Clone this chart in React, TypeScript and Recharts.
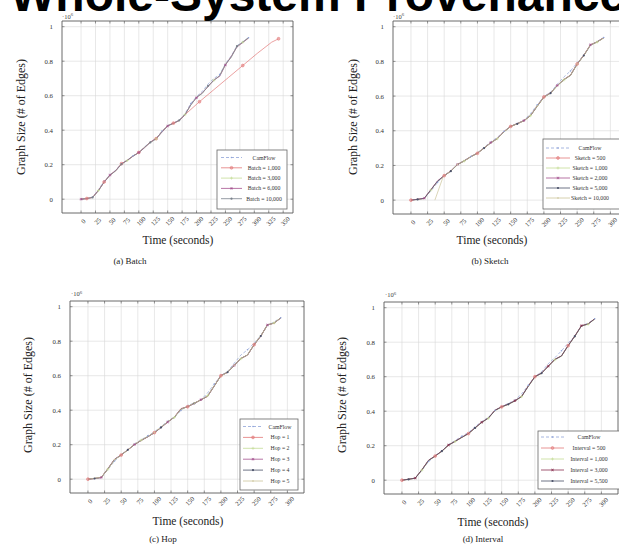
import React from 'react';
import { LineChart, Line, XAxis, YAxis, CartesianGrid, ReferenceArea } from 'recharts';

const SERIF = '"Liberation Serif", "DejaVu Serif", serif';

// ---------------- data ----------------
const TIME = [0, 10, 20, 30, 40, 50, 60, 70, 80, 90, 100, 110, 120, 130, 140, 150, 160, 170, 180, 190, 200, 210, 220, 230, 240, 250, 260, 270, 280, 290];
const TIME_BATCH_1000 = [0, 10, 20, 30, 40, 50, 60, 70, 80, 90, 100, 110, 120, 130, 140, 150, 160, 170, 180, 205, 230, 255, 280, 305, 330, 342];
const TIME_SKETCH_10000 = [36, 48, 50, 60, 70, 80, 90, 100, 110, 120, 130, 140, 150, 160, 170, 180, 190, 200, 210, 220, 230, 240, 250, 260, 270, 280, 290];

const X_TICKS_BATCH = [0, 25, 50, 75, 100, 125, 150, 175, 200, 225, 250, 275, 300, 325, 350];
const X_TICKS = [0, 25, 50, 75, 100, 125, 150, 175, 200, 225, 250, 275, 300];
const Y_TICKS = [0, 0.2, 0.4, 0.6, 0.8, 1];
const Y_TICK_LABELS = ['0', '0.2', '0.4', '0.6', '0.8', '1'];

// (a) Batch  (values in 10^6 edges)
const camA = [0, 0.004, 0.012, 0.055, 0.105, 0.142, 0.168, 0.207, 0.226, 0.252, 0.272, 0.303, 0.333, 0.352, 0.395, 0.428, 0.442, 0.458, 0.495, 0.555, 0.595, 0.625, 0.668, 0.7, 0.722, 0.785, 0.83, 0.89, 0.912, 0.936];
const batch1000 = [0, 0.004, 0.01, 0.05, 0.1, 0.14, 0.166, 0.206, 0.225, 0.25, 0.271, 0.301, 0.331, 0.351, 0.392, 0.426, 0.441, 0.456, 0.49, 0.565, 0.635, 0.705, 0.775, 0.845, 0.91, 0.93];
const batch3000 = [0, 0.005, 0.01, 0.05, 0.1, 0.138, 0.165, 0.204, 0.224, 0.25, 0.27, 0.3, 0.33, 0.35, 0.39, 0.425, 0.44, 0.455, 0.49, 0.545, 0.59, 0.615, 0.655, 0.69, 0.715, 0.78, 0.825, 0.885, 0.91, 0.935];
const batch6000 = [0, 0.004, 0.011, 0.052, 0.098, 0.14, 0.166, 0.205, 0.226, 0.249, 0.271, 0.298, 0.331, 0.352, 0.388, 0.424, 0.441, 0.456, 0.488, 0.548, 0.588, 0.618, 0.652, 0.692, 0.712, 0.778, 0.828, 0.882, 0.908, 0.934];
const batch10000 = [0, 0.003, 0.01, 0.048, 0.1, 0.139, 0.164, 0.203, 0.225, 0.251, 0.269, 0.301, 0.329, 0.349, 0.391, 0.426, 0.439, 0.457, 0.492, 0.546, 0.592, 0.613, 0.657, 0.688, 0.717, 0.782, 0.822, 0.887, 0.911, 0.937];

// (b) Sketch
const camB = [0, 0.004, 0.011, 0.052, 0.102, 0.142, 0.168, 0.207, 0.227, 0.252, 0.272, 0.304, 0.336, 0.362, 0.397, 0.427, 0.443, 0.46, 0.5, 0.55, 0.598, 0.622, 0.668, 0.71, 0.745, 0.792, 0.835, 0.892, 0.915, 0.938];
const sketch500 = [0, 0.005, 0.01, 0.06, 0.11, 0.141, 0.168, 0.205, 0.226, 0.25, 0.27, 0.3, 0.33, 0.355, 0.395, 0.425, 0.44, 0.458, 0.488, 0.542, 0.595, 0.618, 0.66, 0.695, 0.72, 0.785, 0.835, 0.895, 0.912, 0.936];
const sketch1000 = [0, 0.004, 0.009, 0.058, 0.108, 0.14, 0.167, 0.204, 0.225, 0.249, 0.271, 0.299, 0.331, 0.354, 0.393, 0.424, 0.441, 0.457, 0.487, 0.54, 0.593, 0.616, 0.658, 0.693, 0.718, 0.783, 0.833, 0.893, 0.911, 0.935];
const sketch2000 = [0, 0.005, 0.011, 0.061, 0.111, 0.142, 0.169, 0.206, 0.227, 0.251, 0.272, 0.301, 0.332, 0.356, 0.396, 0.426, 0.442, 0.459, 0.489, 0.543, 0.596, 0.619, 0.661, 0.696, 0.721, 0.786, 0.836, 0.896, 0.913, 0.937];
const sketch5000 = [0, 0.004, 0.01, 0.059, 0.109, 0.14, 0.167, 0.205, 0.226, 0.25, 0.27, 0.3, 0.33, 0.355, 0.394, 0.425, 0.44, 0.458, 0.488, 0.542, 0.594, 0.617, 0.66, 0.694, 0.72, 0.784, 0.834, 0.894, 0.912, 0.936];
const sketch10000 = [0, 0.13, 0.142, 0.168, 0.206, 0.226, 0.25, 0.271, 0.301, 0.331, 0.355, 0.395, 0.425, 0.441, 0.458, 0.489, 0.543, 0.595, 0.618, 0.66, 0.695, 0.72, 0.785, 0.835, 0.895, 0.912, 0.936];

// (c) Hop
const camC = [0, 0.004, 0.01, 0.055, 0.105, 0.14, 0.168, 0.206, 0.228, 0.252, 0.275, 0.305, 0.338, 0.36, 0.398, 0.428, 0.442, 0.46, 0.5, 0.552, 0.6, 0.625, 0.672, 0.72, 0.75, 0.79, 0.832, 0.89, 0.912, 0.936];
const hop1 = [0, 0.004, 0.01, 0.06, 0.115, 0.14, 0.17, 0.2, 0.225, 0.245, 0.27, 0.3, 0.332, 0.36, 0.41, 0.42, 0.44, 0.46, 0.48, 0.54, 0.6, 0.62, 0.66, 0.7, 0.72, 0.78, 0.83, 0.895, 0.905, 0.935];
const hop2 = [0, 0.005, 0.011, 0.058, 0.112, 0.141, 0.169, 0.202, 0.226, 0.247, 0.271, 0.301, 0.333, 0.358, 0.405, 0.422, 0.441, 0.459, 0.484, 0.542, 0.598, 0.621, 0.661, 0.698, 0.721, 0.781, 0.831, 0.893, 0.906, 0.936];
const hop3 = [0, 0.004, 0.01, 0.062, 0.116, 0.142, 0.171, 0.201, 0.224, 0.246, 0.269, 0.299, 0.331, 0.361, 0.408, 0.421, 0.439, 0.461, 0.482, 0.541, 0.601, 0.619, 0.659, 0.699, 0.719, 0.779, 0.829, 0.894, 0.904, 0.934];
const hop4 = [0, 0.004, 0.01, 0.06, 0.114, 0.14, 0.17, 0.2, 0.225, 0.246, 0.27, 0.3, 0.332, 0.359, 0.407, 0.42, 0.44, 0.46, 0.481, 0.54, 0.6, 0.62, 0.66, 0.7, 0.72, 0.78, 0.83, 0.895, 0.905, 0.935];
const hop5 = [0, 0.005, 0.011, 0.059, 0.113, 0.141, 0.17, 0.202, 0.226, 0.247, 0.271, 0.301, 0.333, 0.36, 0.406, 0.421, 0.441, 0.46, 0.483, 0.541, 0.599, 0.62, 0.66, 0.699, 0.72, 0.781, 0.83, 0.894, 0.905, 0.935];

// (d) Interval
const camD = [0, 0.004, 0.012, 0.057, 0.108, 0.14, 0.17, 0.206, 0.23, 0.255, 0.276, 0.31, 0.34, 0.365, 0.405, 0.428, 0.445, 0.465, 0.5, 0.55, 0.6, 0.628, 0.675, 0.71, 0.75, 0.795, 0.835, 0.895, 0.91, 0.936];
const interval500 = [0, 0.006, 0.012, 0.06, 0.115, 0.14, 0.168, 0.203, 0.225, 0.248, 0.27, 0.303, 0.335, 0.36, 0.405, 0.425, 0.44, 0.46, 0.485, 0.545, 0.6, 0.62, 0.66, 0.7, 0.72, 0.78, 0.835, 0.895, 0.905, 0.935];
const interval1000 = [0, 0.005, 0.011, 0.058, 0.113, 0.139, 0.167, 0.202, 0.224, 0.247, 0.269, 0.302, 0.334, 0.359, 0.403, 0.424, 0.439, 0.459, 0.484, 0.543, 0.598, 0.619, 0.659, 0.698, 0.719, 0.779, 0.833, 0.893, 0.904, 0.934];
const interval3000 = [0, 0.006, 0.012, 0.061, 0.116, 0.141, 0.169, 0.204, 0.226, 0.249, 0.271, 0.304, 0.336, 0.361, 0.406, 0.426, 0.441, 0.461, 0.486, 0.546, 0.601, 0.621, 0.661, 0.701, 0.721, 0.781, 0.836, 0.896, 0.906, 0.936];
const interval5500 = [0, 0.005, 0.012, 0.06, 0.114, 0.14, 0.168, 0.203, 0.225, 0.248, 0.27, 0.303, 0.335, 0.36, 0.404, 0.425, 0.44, 0.46, 0.485, 0.544, 0.599, 0.62, 0.66, 0.699, 0.72, 0.78, 0.834, 0.894, 0.905, 0.935];

const NAMES_A = ['CamFlow', 'Batch = 1,000', 'Batch = 3,000', 'Batch = 6,000', 'Batch = 10,000'];
const NAMES_B = ['CamFlow', 'Sketch = 500', 'Sketch = 1,000', 'Sketch = 2,000', 'Sketch = 5,000', 'Sketch = 10,000'];
const NAMES_C = ['CamFlow', 'Hop = 1', 'Hop = 2', 'Hop = 3', 'Hop = 4', 'Hop = 5'];
const NAMES_D = ['CamFlow', 'Interval = 500', 'Interval = 1,000', 'Interval = 3,000', 'Interval = 5,500'];

const TITLE = 'Whole-System Provenance';
const Y_LABEL = 'Graph Size (# of Edges)';
const X_LABEL = 'Time (seconds)';
const CAPTIONS = ['(a) Batch', '(b) Sketch', '(c) Hop', '(d) Interval'];

// ---------------- styles ----------------
const C_CAM = '#8fa3d8';
const C_RED = '#e27878';
const C_GREEN = '#c4dc96';
const C_PURPLE = '#a4508e';
const C_DARK = '#4a5068';
const C_GRAY = '#7a828c';
const C_TAN = '#cbc49a';
const C_WINE = '#8a3050';

type Kind = 'circle' | 'plus' | 'star' | 'dot' | 'cross' | 'small';
type S = { name: string; times: number[]; values: number[]; color: string; dash?: string; kind: Kind; every: number; phase: number };

function Marker({ kind, x, y, color }: { kind: Kind; x: number; y: number; color: string }) {
  const r = 1.5;
  switch (kind) {
    case 'circle':
      return <circle cx={x} cy={y} r={1.4} fill={color} fillOpacity={0.5} stroke={color} strokeWidth={0.6} />;
    case 'plus':
      return <path d={`M${x - r},${y}H${x + r}M${x},${y - r}V${y + r}`} stroke={color} strokeWidth={0.6} fill="none" />;
    case 'star':
      return <path d={`M${x - r},${y}H${x + r}M${x - 0.8},${y - 1.3}L${x + 0.8},${y + 1.3}M${x + 0.8},${y - 1.3}L${x - 0.8},${y + 1.3}`} stroke={color} strokeWidth={0.6} fill="none" />;
    case 'dot':
      return <circle cx={x} cy={y} r={1.1} fill={color} />;
    case 'cross':
      return <path d={`M${x - 1.1},${y - 1.1}L${x + 1.1},${y + 1.1}M${x + 1.1},${y - 1.1}L${x - 1.1},${y + 1.1}`} stroke={color} strokeWidth={0.6} fill="none" />;
    default:
      return <circle cx={x} cy={y} r={0.8} fill={color} />;
  }
}

const seriesA: S[] = [
  { name: NAMES_A[0], times: TIME, values: camA, color: C_CAM, dash: '3 2', kind: 'small', every: 5, phase: 1 },
  { name: NAMES_A[1], times: TIME_BATCH_1000, values: batch1000, color: C_RED, kind: 'circle', every: 3, phase: 2 },
  { name: NAMES_A[2], times: TIME, values: batch3000, color: C_GREEN, kind: 'plus', every: 5, phase: 2 },
  { name: NAMES_A[3], times: TIME, values: batch6000, color: C_PURPLE, kind: 'star', every: 5, phase: 0 },
  { name: NAMES_A[4], times: TIME, values: batch10000, color: C_GRAY, kind: 'dot', every: 5, phase: 3 },
];
const seriesB: S[] = [
  { name: NAMES_B[0], times: TIME, values: camB, color: C_CAM, dash: '3 2', kind: 'small', every: 5, phase: 1 },
  { name: NAMES_B[1], times: TIME, values: sketch500, color: C_RED, kind: 'circle', every: 5, phase: 0 },
  { name: NAMES_B[2], times: TIME, values: sketch1000, color: C_GREEN, kind: 'plus', every: 5, phase: 2 },
  { name: NAMES_B[3], times: TIME, values: sketch2000, color: C_PURPLE, kind: 'star', every: 5, phase: 3 },
  { name: NAMES_B[4], times: TIME, values: sketch5000, color: C_DARK, kind: 'dot', every: 5, phase: 4 },
  { name: NAMES_B[5], times: TIME_SKETCH_10000, values: sketch10000, color: C_TAN, kind: 'small', every: 6, phase: 2 },
];
const seriesC: S[] = [
  { name: NAMES_C[0], times: TIME, values: camC, color: C_CAM, dash: '3 2', kind: 'small', every: 5, phase: 1 },
  { name: NAMES_C[1], times: TIME, values: hop1, color: C_RED, kind: 'circle', every: 5, phase: 0 },
  { name: NAMES_C[2], times: TIME, values: hop2, color: C_GREEN, kind: 'plus', every: 5, phase: 2 },
  { name: NAMES_C[3], times: TIME, values: hop3, color: C_PURPLE, kind: 'star', every: 5, phase: 3 },
  { name: NAMES_C[4], times: TIME, values: hop4, color: C_DARK, kind: 'dot', every: 5, phase: 4 },
  { name: NAMES_C[5], times: TIME, values: hop5, color: C_TAN, kind: 'small', every: 6, phase: 2 },
];
const seriesD: S[] = [
  { name: NAMES_D[0], times: TIME, values: camD, color: C_CAM, dash: '3 2', kind: 'small', every: 5, phase: 1 },
  { name: NAMES_D[1], times: TIME, values: interval500, color: C_RED, kind: 'circle', every: 5, phase: 0 },
  { name: NAMES_D[2], times: TIME, values: interval1000, color: C_GREEN, kind: 'plus', every: 5, phase: 2 },
  { name: NAMES_D[3], times: TIME, values: interval3000, color: C_WINE, kind: 'star', every: 5, phase: 3 },
  { name: NAMES_D[4], times: TIME, values: interval5500, color: C_DARK, kind: 'dot', every: 5, phase: 4 },
];

type Geo = {
  left: number; top: number; w: number; h: number;
  margin: { top: number; right: number; bottom: number; left: number };
  xDomain: [number, number]; xTicks: number[];
};
const Y_DOMAIN: [number, number] = [-0.08, 1.033];
const Y_AXIS_W = 30;
const X_AXIS_H = 30;

const geoA: Geo = { left: 0, top: 0, w: 310, h: 270, margin: { top: 21, right: 17, bottom: 27, left: 32 }, xDomain: [-33, 367], xTicks: X_TICKS_BATCH };
const geoB: Geo = { left: 310, top: 0, w: 330, h: 270, margin: { top: 21, right: 13, bottom: 26, left: 53 }, xDomain: [-27, 325], xTicks: X_TICKS };
const geoC: Geo = { left: 0, top: 270, w: 310, h: 276, margin: { top: 31, right: 6, bottom: 23, left: 40 }, xDomain: [-27, 325], xTicks: X_TICKS };
const geoD: Geo = { left: 310, top: 270, w: 320, h: 276, margin: { top: 32, right: 12, bottom: 22, left: 44 }, xDomain: [-27, 325], xTicks: X_TICKS };

function Panel({ geo, series }: { geo: Geo; series: S[] }) {
  const pl = geo.margin.left + Y_AXIS_W;
  const pr = geo.w - geo.margin.right;
  const pt = geo.margin.top;
  const pb = geo.h - geo.margin.bottom - X_AXIS_H;

  const XTick = (props: any) => {
    const { x, payload } = props;
    return (
      <g>
        <line x1={x} x2={x} y1={pb} y2={pb - 2.5} stroke="#555" strokeWidth={0.6} />
        <line x1={x} x2={x} y1={pt} y2={pt + 2.5} stroke="#555" strokeWidth={0.6} />
        <g transform={`translate(${x + 2},${pb + 8})`}>
          <text transform="rotate(-45)" textAnchor="middle" dominantBaseline="central" fontSize={6.5} fontFamily={SERIF} fill="#333">
            {payload.value}
          </text>
        </g>
      </g>
    );
  };
  const YTick = (props: any) => {
    const { y, payload } = props;
    const idx = Y_TICKS.indexOf(payload.value);
    return (
      <g>
        <line x1={pl} x2={pl + 2.5} y1={y} y2={y} stroke="#555" strokeWidth={0.6} />
        <line x1={pr} x2={pr - 2.5} y1={y} y2={y} stroke="#555" strokeWidth={0.6} />
        <text x={pl - 9} y={y} textAnchor="end" dominantBaseline="central" fontSize={6.8} fontFamily={SERIF} fill="#333">
          {idx >= 0 ? Y_TICK_LABELS[idx] : payload.value}
        </text>
      </g>
    );
  };

  return (
    <div style={{ position: 'absolute', left: geo.left, top: geo.top, width: geo.w, height: geo.h }}>
      <LineChart width={geo.w} height={geo.h} margin={geo.margin}>
        <CartesianGrid stroke="#d9d9d9" strokeWidth={0.6} />
        <XAxis
          type="number"
          dataKey="t"
          domain={geo.xDomain}
          ticks={geo.xTicks}
          allowDataOverflow
          height={X_AXIS_H}
          axisLine={false}
          tickLine={false}
          tick={XTick}
          interval={0}
        />
        <YAxis
          type="number"
          domain={Y_DOMAIN}
          ticks={Y_TICKS}
          allowDataOverflow
          width={Y_AXIS_W}
          axisLine={false}
          tickLine={false}
          tick={YTick}
          interval={0}
        />
        <ReferenceArea x1={geo.xDomain[0]} x2={geo.xDomain[1]} y1={Y_DOMAIN[0]} y2={Y_DOMAIN[1]} fill="none" stroke="#555" strokeWidth={0.8} ifOverflow="visible" />
        {series.map((s) => (
          <Line
            key={s.name}
            data={s.times.map((t, i) => ({ t, v: s.values[i] }))}
            dataKey="v"
            type="linear"
            stroke={s.color}
            strokeWidth={0.7}
            strokeDasharray={s.dash}
            isAnimationActive={false}
            activeDot={false}
            dot={(p: any) => {
              const key = `${s.name}-${p.index}`;
              if (p.cx == null || p.cy == null || (p.index + s.phase) % s.every !== 0) return <g key={key} />;
              return (
                <g key={key}>
                  <Marker kind={s.kind} x={p.cx} y={p.cy} color={s.color} />
                </g>
              );
            }}
          />
        ))}
      </LineChart>
    </div>
  );
}

type Leg = { x: number; y: number; w: number; h: number; row0: number; dy: number; sx1: number; sx2: number; tx: number };
const legA: Leg = { x: 217, y: 150, w: 70, h: 59, row0: 157.5, dy: 10.3, sx1: 221, sx2: 242, tx: 264 };
const legB: Leg = { x: 543, y: 139, w: 80, h: 70, row0: 148, dy: 10, sx1: 546, sx2: 570, tx: 590 };
const legC: Leg = { x: 240, y: 419, w: 58, h: 71, row0: 426.5, dy: 10.9, sx1: 243, sx2: 263, tx: 280 };
const legD: Leg = { x: 538, y: 431, w: 83, h: 58, row0: 437, dy: 11, sx1: 541, sx2: 564, tx: 589 };

function LegendBox({ leg, series }: { leg: Leg; series: S[] }) {
  return (
    <g>
      <rect x={leg.x} y={leg.y} width={leg.w} height={leg.h} fill="#fff" stroke="#666" strokeWidth={0.8} />
      {series.map((s, i) => {
        const y = leg.row0 + i * leg.dy;
        const mx = (leg.sx1 + leg.sx2) / 2;
        return (
          <g key={s.name}>
            <line x1={leg.sx1} x2={leg.sx2} y1={y} y2={y} stroke={s.color} strokeWidth={0.8} strokeDasharray={s.dash} />
            <Marker kind={s.kind} x={mx} y={y} color={s.color} />
            <text x={leg.tx} y={y} textAnchor="middle" dominantBaseline="central" fontSize={5.8} fontFamily={SERIF} fill="#333">
              {s.name}
            </text>
          </g>
        );
      })}
    </g>
  );
}

type Lab = { ex: number; ey: number; yx: number; yy: number; tx: number; ty: number; cx: number; cy: number };
const labA: Lab = { ex: 62, ey: 18.5, yx: 21, yy: 117, tx: 178, ty: 240, cx: 130, cy: 261 };
const labB: Lab = { ex: 393, ey: 18.5, yx: 353, yy: 117, tx: 492, ty: 240, cx: 490, cy: 261 };
const labC: Lab = { ex: 71, ey: 296, yx: 28, yy: 395, tx: 188, ty: 521, cx: 163, cy: 539 };
const labD: Lab = { ex: 385, ey: 297, yx: 342, yy: 395, tx: 493, ty: 522, cx: 483, cy: 539 };

function Labels({ lab, caption }: { lab: Lab; caption: string }) {
  return (
    <g fontFamily={SERIF} fill="#222">
      <text x={lab.ex} y={lab.ey} fontSize={6.5} fill="#444">
        ·10<tspan dy={-2.5} fontSize={4.8}>6</tspan>
      </text>
      <text x={lab.yx} y={lab.yy} fontSize={12} textAnchor="middle" dominantBaseline="central" transform={`rotate(-90 ${lab.yx} ${lab.yy})`}>
        {Y_LABEL}
      </text>
      <text x={lab.tx} y={lab.ty} fontSize={11.5} textAnchor="middle" dominantBaseline="central">
        {X_LABEL}
      </text>
      <text x={lab.cx} y={lab.cy} fontSize={9} textAnchor="middle" dominantBaseline="central">
        {caption}
      </text>
    </g>
  );
}

export default function App() {
  return (
    <div style={{ position: 'absolute', left: 0, top: 0, width: 619, height: 546, overflow: 'hidden', background: '#fff' }}>
      <Panel geo={geoA} series={seriesA} />
      <Panel geo={geoB} series={seriesB} />
      <Panel geo={geoC} series={seriesC} />
      <Panel geo={geoD} series={seriesD} />
      <svg width={619} height={546} style={{ position: 'absolute', left: 0, top: 0, pointerEvents: 'none' }}>
        <Labels lab={labA} caption={CAPTIONS[0]} />
        <Labels lab={labB} caption={CAPTIONS[1]} />
        <Labels lab={labC} caption={CAPTIONS[2]} />
        <Labels lab={labD} caption={CAPTIONS[3]} />
        <LegendBox leg={legA} series={seriesA} />
        <LegendBox leg={legB} series={seriesB} />
        <LegendBox leg={legC} series={seriesC} />
        <LegendBox leg={legD} series={seriesD} />
        <text x={10} y={11} fontSize={48} fontWeight="bold" fontFamily='"Liberation Sans", Arial, sans-serif' fill="#000">
          {TITLE}
        </text>
      </svg>
    </div>
  );
}
